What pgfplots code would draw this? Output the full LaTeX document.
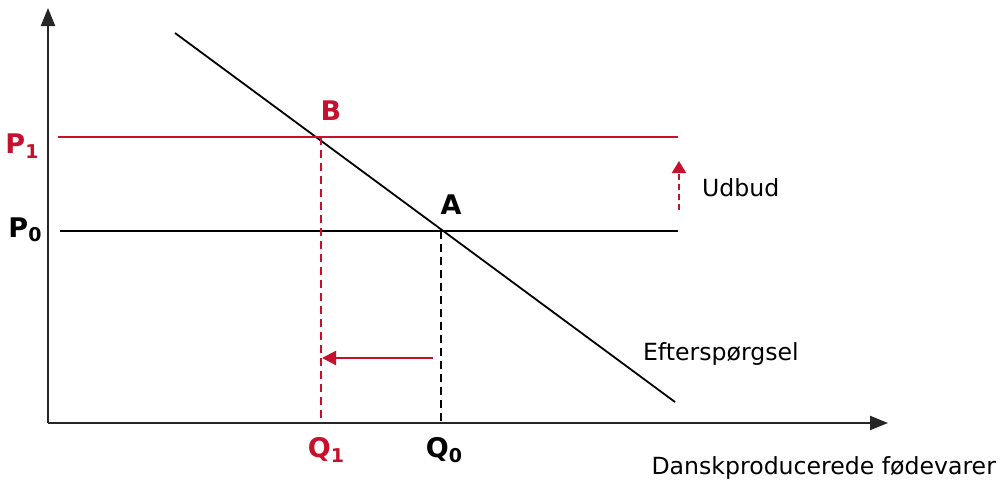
\documentclass[border=0pt]{standalone}
\usepackage{fontspec}
\setmainfont{DejaVu Sans}
\usepackage{pgfplots}
\pgfplotsset{compat=1.18}
\usetikzlibrary{arrows.meta}
\definecolor{dred}{RGB}{200,16,46}
\newcommand{\lab}[2]{\fontsize{13.5}{14}\selectfont\textbf{#1\raisebox{-0.3ex}{\fontsize{9.5}{9}\selectfont #2}}}
\begin{document}
\begin{tikzpicture}
\begin{axis}[
    hide axis, scale only axis,
    width=501.5pt, height=241pt,
    xmin=0, xmax=1003, ymin=0, ymax=482,
    y dir=reverse, clip=false,
    font=\fontsize{11.8}{14}\selectfont,
]
% axes
\addplot[black!85, line width=1.1pt, -{Triangle[width=7pt,length=9pt]}] coordinates {(48,423) (48,8)};
\addplot[black!85, line width=1.1pt, -{Triangle[width=7pt,length=9pt]}] coordinates {(48,423) (888,423)};
% demand
\addplot[black, line width=0.9pt] coordinates {(175,33) (675,402)};
% price lines
\addplot[dred, line width=1.1pt] coordinates {(58,137) (678,137)};
\addplot[black, line width=1.1pt] coordinates {(60,231) (678,231)};
% quantity lines
\addplot[dred, line width=1.1pt, dash pattern=on 4pt off 2.5pt] coordinates {(321,137) (321,423)};
\addplot[black, line width=1.1pt, dash pattern=on 4pt off 2.5pt] coordinates {(441,231) (441,423)};
% arrows
\addplot[dred, line width=1.1pt, -{Triangle[width=7pt,length=7pt]}] coordinates {(433,358) (322,358)};
\addplot[dred, line width=1.1pt, dash pattern=on 3pt off 2pt, -{Triangle[width=7pt,length=6pt]}] coordinates {(679,210) (679,161)};
% labels
\node[dred] at (axis cs:22,146) {\lab{P}{1}};
\node at (axis cs:25,230) {\lab{P}{0}};
\node[dred] at (axis cs:331,113) {\lab{B}{}};
\node at (axis cs:451,207) {\lab{A}{}};
\node[dred] at (axis cs:326,450) {\lab{Q}{1}};
\node at (axis cs:444,450) {\lab{Q}{0}};
\node[anchor=west] at (axis cs:695,188) {Udbud};
\node[anchor=west] at (axis cs:636,354) {Efterspørgsel};
\node[anchor=east] at (axis cs:1003,468) {Danskproducerede fødevarer};
\end{axis}
\pgfresetboundingbox
\useasboundingbox (0,0) rectangle (501.5pt,241pt);
\end{tikzpicture}
\end{document}
